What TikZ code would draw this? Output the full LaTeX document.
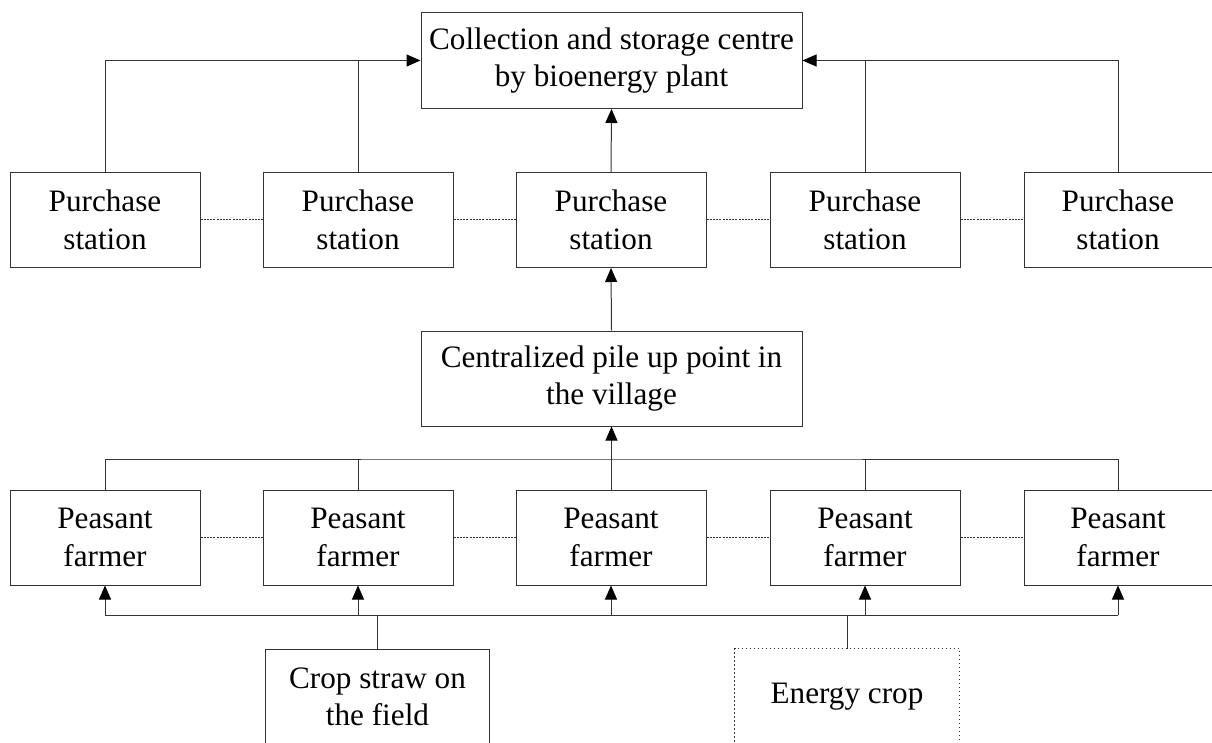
\documentclass[tikz,border=0pt]{standalone}
\usepackage{fontspec}
\setmainfont{Liberation Serif}
\usetikzlibrary{arrows.meta}
\begin{document}
\begin{tikzpicture}[x=1pt,y=-1pt,
  box/.style={draw=black!80,line width=1pt,align=center,inner sep=0pt,
    font=\fontsize{31.2}{37.5}\selectfont},
  stationbox/.style={box,minimum width=190pt,minimum height=95pt},
  widebox/.style={box,minimum width=381pt,minimum height=96pt},
  sourcebox/.style={box,minimum width=224pt,minimum height=96pt},
  link/.style={draw=black!80,line width=1pt},
  arr/.style={link,-{Triangle[length=14pt,width=12pt,fill=black,color=black]}},
  chain/.style={draw=black!80,line width=1pt,dash pattern=on 2pt off 1.2pt}]
\useasboundingbox (0,0) rectangle (1212,743);
\clip (0,0) rectangle (1212,743);

% plant
\node[widebox] (top) at (611.5,60.5) {Collection and storage centre\\by bioenergy plant};

% purchase stations
\node[stationbox] (s1) at (105,220) {Purchase\\station};
\node[stationbox] (s2) at (358,220) {Purchase\\station};
\node[stationbox] (s3) at (611,220) {Purchase\\station};
\node[stationbox] (s4) at (865,220) {Purchase\\station};
\node[stationbox,minimum width=188pt] (s5) at (1118,220) {Purchase\\station};

% village pile up point
\node[widebox,minimum height=95pt] (cen) at (611.5,378.5) {Centralized pile up point in\\the village};

% farmers
\node[stationbox] (f1) at (105,537.5) {Peasant\\farmer};
\node[stationbox] (f2) at (358,537.5) {Peasant\\farmer};
\node[stationbox] (f3) at (611,537.5) {Peasant\\farmer};
\node[stationbox] (f4) at (865,537.5) {Peasant\\farmer};
\node[stationbox,minimum width=188pt] (f5) at (1118,537.5) {Peasant\\farmer};

% sources
\node[sourcebox] (crop) at (377.5,697) {Crop straw on\\the field};
\node[sourcebox,draw=none] (energy) at (847,697) {Energy crop};
\draw[draw=black!80,line width=1pt,dash pattern=on 1.3pt off 2.7pt]
  (energy.south west) -- (energy.north west) -- (energy.north east) -- (energy.south east);

% dotted links between neighbours
\draw[chain] (s1) -- (s2);
\draw[chain] (s2) -- (s3);
\draw[chain] (s3) -- (s4);
\draw[chain] (s4) -- (s5);
\draw[chain] (f1) -- (f2);
\draw[chain] (f2) -- (f3);
\draw[chain] (f3) -- (f4);
\draw[chain] (f4) -- (f5);

% stations to plant
\draw[arr] (s1.north) |- (top.west);
\draw[link] (s2.north) -- (s2.north |- top.west);
\draw[arr] (s5.north) |- (top.east);
\draw[link] (s4.north) -- (s4.north |- top.east);
\draw[arr] (s3.north) -- (top.south);

% pile up point to station
\draw[arr] (cen.north) -- (s3.south);

% farmers to pile up point
\coordinate (ub) at (611.5,459);
\draw[link] (f1.north) |- (ub) -| (f5.north);
\draw[link] (f2.north) -- (f2.north |- ub);
\draw[link] (f3.north) -- (f3.north |- ub);
\draw[link] (f4.north) -- (f4.north |- ub);
\draw[arr] (ub) -- (cen.south);

% sources to farmers
\coordinate (lb) at (611,615);
\draw[link] (f1.south |- lb) -- (f5.south |- lb);
\foreach \f in {f1,f2,f3,f4,f5} \draw[arr] (\f.south |- lb) -- (\f.south);
\draw[link] (crop.north) -- (crop.north |- lb);
\draw[link] (energy.north) -- (energy.north |- lb);
\end{tikzpicture}
\end{document}
